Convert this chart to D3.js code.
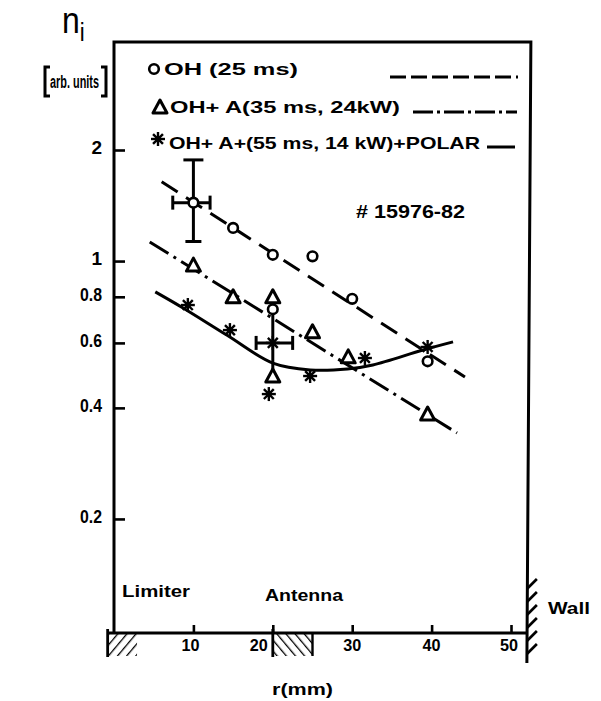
<!DOCTYPE html>
<html>
<head>
<meta charset="utf-8">
<script src="https://cdn.jsdelivr.net/npm/d3@7"></script>
<style>
  body { margin: 0; background: #fff; }
  text { font-family: "Liberation Sans", Arial, sans-serif; font-weight: bold; fill: #000; }
</style>
</head>
<body>
<svg id="chart" width="601" height="701"></svg>
<script>
// Ion density n_i (arb. units) against radius r (mm)
const ohR  = [10, 15, 20, 25, 30, 39.5, 20];
const ohN  = [1.44, 1.23, 1.04, 1.03, 0.79, 0.535, 0.74];
const rfR  = [10, 15, 20, 25, 29.5, 20, 39.5];
const rfN  = [0.975, 0.80, 0.80, 0.643, 0.55, 0.488, 0.385];
const polR = [9.3, 14.6, 20, 19.5, 24.7, 31.6, 39.5];
const polN = [0.76, 0.65, 0.60, 0.436, 0.488, 0.546, 0.585];

// Trend lines through each series
const ohFitR  = [6.0, 44.2];
const ohFitN  = [1.64, 0.485];
const rfFitR  = [4.5, 43.2];
const rfFitN  = [1.127, 0.342];
const polFitR = [5.2, 8.7, 14.2, 20.0, 24.7, 29.4, 32.6, 38.9, 42.7];
const polFitN = [0.825, 0.746, 0.630, 0.529, 0.507, 0.510, 0.523, 0.574, 0.604];

// Error bars
const errR    = [10, 20];
const errN    = [1.44, 0.60];
const errRLo  = [7.4, 17.9];
const errRHi  = [12.1, 22.5];
const errNLo  = [1.13, 0.49];
const errNHi  = [1.88, 0.74];
const errVCap = [true, false];

// Axes
const xTicks = [10, 20, 30, 40, 50];
const xTickLabels = ["10", "20", "30", "40", "50"];
const yTicks = [0.2, 0.4, 0.6, 0.8, 1, 2];
const yTickLabels = ["0.2", "0.4", "0.6", "0.8", "1", "2"];

// Machine elements along r (mm)
const limiterR = [-0.8, 2.9];
const antennaR = [20, 25];
const wallR = 52;

const legendLabels = ["OH  (25 ms)", "OH+ A(35 ms, 24kW)", "OH+ A+(55 ms, 14 kW)+POLAR"];
const shotLabel = "# 15976-82";

const svg = d3.select("#chart");
const x = d3.scaleLinear().domain([0, 50]).range([114, 511]);
const y = d3.scaleLog().domain([0.1, 2]).range([630, 150]);
const yTop = 42, yAxis = 633;
const xLeft = x(0), xWall = x(wallR);

const ink = "#000";
const g = svg.append("g");

// Hatch patterns
const defs = svg.append("defs");
function hatch(id, dir) {
  const p = defs.append("pattern").attr("id", id).attr("patternUnits", "userSpaceOnUse")
    .attr("width", 7).attr("height", 7)
    .attr("patternTransform", `rotate(${dir})`);
  p.append("line").attr("x1", 0).attr("y1", 0).attr("x2", 0).attr("y2", 7)
    .attr("stroke", ink).attr("stroke-width", 2.6);
}
hatch("hatchR", 40);
hatch("hatchL", -40);

// Frame
g.append("path")
  .attr("d", `M${xLeft},${yAxis} L${xLeft},${yTop} L${xWall + 4},${yTop} L${xWall},${yAxis + 30}`)
  .attr("fill", "none").attr("stroke", ink).attr("stroke-width", 3);

// x axis
const xAxis = d3.axisTop(x).tickValues(xTicks).tickSize(8).tickFormat("");
const gx = g.append("g").attr("transform", `translate(0,${yAxis})`).call(xAxis);
gx.select(".domain").remove();
gx.selectAll(".tick line").attr("stroke", ink).attr("stroke-width", 2.6);
g.append("line").attr("x1", x(limiterR[0])).attr("x2", xWall).attr("y1", yAxis).attr("y2", yAxis)
  .attr("stroke", ink).attr("stroke-width", 3.2);

const xLabelShift = [-3, -14, 0, 0, -2];
g.selectAll(".xl").data(xTicks).join("text")
  .attr("x", (d, i) => x(d) + xLabelShift[i]).attr("y", 651)
  .attr("text-anchor", "middle").attr("font-size", 16)
  .attr("textLength", 18).attr("lengthAdjust", "spacingAndGlyphs")
  .text((d, i) => xTickLabels[i]);

// y axis ticks
const yAxisG = d3.axisRight(y).tickValues(yTicks).tickSize(11).tickFormat("");
const gy = g.append("g").attr("transform", `translate(${xLeft},0)`).call(yAxisG);
gy.select(".domain").remove();
gy.selectAll(".tick line").attr("stroke", ink).attr("stroke-width", 2.6);
g.selectAll(".yl").data(yTicks).join("text")
  .attr("x", 102).attr("y", d => y(d) + 4)
  .attr("text-anchor", "end").attr("font-size", 19)
  .attr("textLength", (d, i) => yTickLabels[i].length > 1 ? 22 : null)
  .attr("lengthAdjust", "spacingAndGlyphs")
  .text((d, i) => yTickLabels[i]);

// Limiter and antenna hatched blocks below the r axis
function block(r0, r1, pat) {
  const bx0 = x(r0), bx1 = x(r1);
  g.append("rect").attr("x", bx0).attr("y", yAxis).attr("width", bx1 - bx0).attr("height", 23)
    .attr("fill", `url(#${pat})`);
  g.append("line").attr("x1", bx0).attr("x2", bx0).attr("y1", yAxis - 4).attr("y2", yAxis + 24)
    .attr("stroke", ink).attr("stroke-width", 2.8);
}
block(limiterR[0], limiterR[1], "hatchR");
block(antennaR[0], antennaR[1], "hatchL");
g.append("line").attr("x1", x(antennaR[1])).attr("x2", x(antennaR[1])).attr("y1", yAxis).attr("y2", yAxis + 23)
  .attr("stroke", ink).attr("stroke-width", 2.4);

// Wall hatching
d3.range(585, 662, 13).forEach(yy => {
  g.append("line").attr("x1", xWall).attr("y1", yy + 4).attr("x2", xWall + 10).attr("y2", yy - 6)
    .attr("stroke", ink).attr("stroke-width", 2.6);
});

// Labels
g.append("text").attr("x", 122).attr("y", 597).attr("font-size", 16)
  .attr("textLength", 68).attr("lengthAdjust", "spacingAndGlyphs").text("Limiter");
g.append("text").attr("x", 265).attr("y", 601).attr("font-size", 16)
  .attr("textLength", 78).attr("lengthAdjust", "spacingAndGlyphs").text("Antenna");
g.append("text").attr("x", 548).attr("y", 614).attr("font-size", 17)
  .attr("textLength", 42).attr("lengthAdjust", "spacingAndGlyphs").text("Wall");
g.append("text").attr("x", 272).attr("y", 695).attr("font-size", 16)
  .attr("textLength", 61).attr("lengthAdjust", "spacingAndGlyphs").text("r(mm)");

// Quantity symbol and unit
const ni = g.append("text").attr("x", 62).attr("y", 33).attr("font-size", 32).style("font-weight", "normal")
  .attr("transform", "translate(62,33) scale(1,1.15) translate(-62,-33)");
ni.append("tspan").text("n");
ni.append("tspan").attr("font-size", 22).attr("dy", 7).text("i");
g.append("path").attr("d", "M50,67 L45,67 L45,96 L50,96")
  .attr("fill", "none").attr("stroke", ink).attr("stroke-width", 3);
g.append("path").attr("d", "M101,67 L106,67 L106,96 L101,96")
  .attr("fill", "none").attr("stroke", ink).attr("stroke-width", 3);
g.append("text").attr("x", 50).attr("y", 88).attr("font-size", 18)
  .attr("textLength", 49).attr("lengthAdjust", "spacingAndGlyphs").text("arb. units");

// Trend lines
const line = d3.line().x(d => x(d[0])).y(d => y(d[1]));
g.append("path").datum(d3.zip(ohFitR, ohFitN)).attr("d", line)
  .attr("fill", "none").attr("stroke", ink).attr("stroke-width", 3).attr("stroke-dasharray", "19,10");
g.append("path").datum(d3.zip(rfFitR, rfFitN)).attr("d", line)
  .attr("fill", "none").attr("stroke", ink).attr("stroke-width", 3).attr("stroke-dasharray", "22,6,3,6");
g.append("path").datum(d3.zip(polFitR, polFitN)).attr("d", line.curve(d3.curveCatmullRom.alpha(0.5)))
  .attr("fill", "none").attr("stroke", ink).attr("stroke-width", 3);

// Error bars
errR.forEach((r, i) => {
  const cx = x(r), cy = y(errN[i]);
  const eb = g.append("g").attr("stroke", ink).attr("stroke-width", 3).attr("fill", "none");
  eb.append("line").attr("x1", cx).attr("x2", cx).attr("y1", y(errNHi[i])).attr("y2", y(errNLo[i]));
  eb.append("line").attr("x1", x(errRLo[i])).attr("x2", x(errRHi[i])).attr("y1", cy).attr("y2", cy);
  [errRLo[i], errRHi[i]].forEach(rr => eb.append("line")
    .attr("x1", x(rr)).attr("x2", x(rr)).attr("y1", cy - 7).attr("y2", cy + 7));
  if (errVCap[i]) {
    eb.append("line").attr("x1", cx - 10).attr("x2", cx + 10).attr("y1", y(errNHi[i])).attr("y2", y(errNHi[i]));
    eb.append("line").attr("x1", cx - 8).attr("x2", cx + 8).attr("y1", y(errNLo[i])).attr("y2", y(errNLo[i]));
  }
});

// Marker shapes
function drawCircle(sel, cx, cy) {
  sel.append("circle").attr("cx", cx).attr("cy", cy).attr("r", 4.8)
    .attr("fill", "#fff").attr("stroke", ink).attr("stroke-width", 2.6);
}
function drawTriangle(sel, cx, cy) {
  const w = 7, h = 12;
  sel.append("path")
    .attr("d", `M${cx},${cy - h / 2 - 1} L${cx + w},${cy + h / 2} L${cx - w},${cy + h / 2} Z`)
    .attr("fill", "#fff").attr("stroke", ink).attr("stroke-width", 3).attr("stroke-linejoin", "round");
}
function drawStar(sel, cx, cy) {
  const s = sel.append("g").attr("stroke", ink).attr("stroke-width", 2.4);
  for (let k = 0; k < 4; k++) {
    const a = k * Math.PI / 4;
    s.append("line").attr("x1", cx - 7 * Math.cos(a)).attr("y1", cy - 7 * Math.sin(a))
      .attr("x2", cx + 7 * Math.cos(a)).attr("y2", cy + 7 * Math.sin(a));
  }
  sel.append("circle").attr("cx", cx).attr("cy", cy).attr("r", 3).attr("fill", ink);
}

const pts = g.append("g");
ohR.forEach((r, i) => drawCircle(pts, x(r), y(ohN[i])));
rfR.forEach((r, i) => drawTriangle(pts, x(r), y(rfN[i])));
polR.forEach((r, i) => drawStar(pts, x(r), y(polN[i])));

// Legend
const lg = g.append("g");
drawCircle(lg, 154, 69);
drawTriangle(lg, 160, 107);
drawStar(lg, 158, 139);
const legX = [164, 170, 169];
const legY = [75, 113, 149];
const legW = [134, 230, 311];
legendLabels.forEach((t, i) => lg.append("text").attr("x", legX[i]).attr("y", legY[i]).attr("font-size", 17)
  .attr("textLength", legW[i]).attr("lengthAdjust", "spacingAndGlyphs").text(t));
lg.append("line").attr("x1", 390).attr("x2", 518).attr("y1", 77).attr("y2", 77)
  .attr("stroke", ink).attr("stroke-width", 3).attr("stroke-dasharray", "16,5");
lg.append("line").attr("x1", 413).attr("x2", 517).attr("y1", 112).attr("y2", 112)
  .attr("stroke", ink).attr("stroke-width", 3).attr("stroke-dasharray", "20,4,3,4");
lg.append("line").attr("x1", 487).attr("x2", 515).attr("y1", 147).attr("y2", 147)
  .attr("stroke", ink).attr("stroke-width", 3);

g.append("text").attr("x", 356).attr("y", 218).attr("font-size", 18)
  .attr("textLength", 109).attr("lengthAdjust", "spacingAndGlyphs").text(shotLabel);
</script>
</body>
</html>
